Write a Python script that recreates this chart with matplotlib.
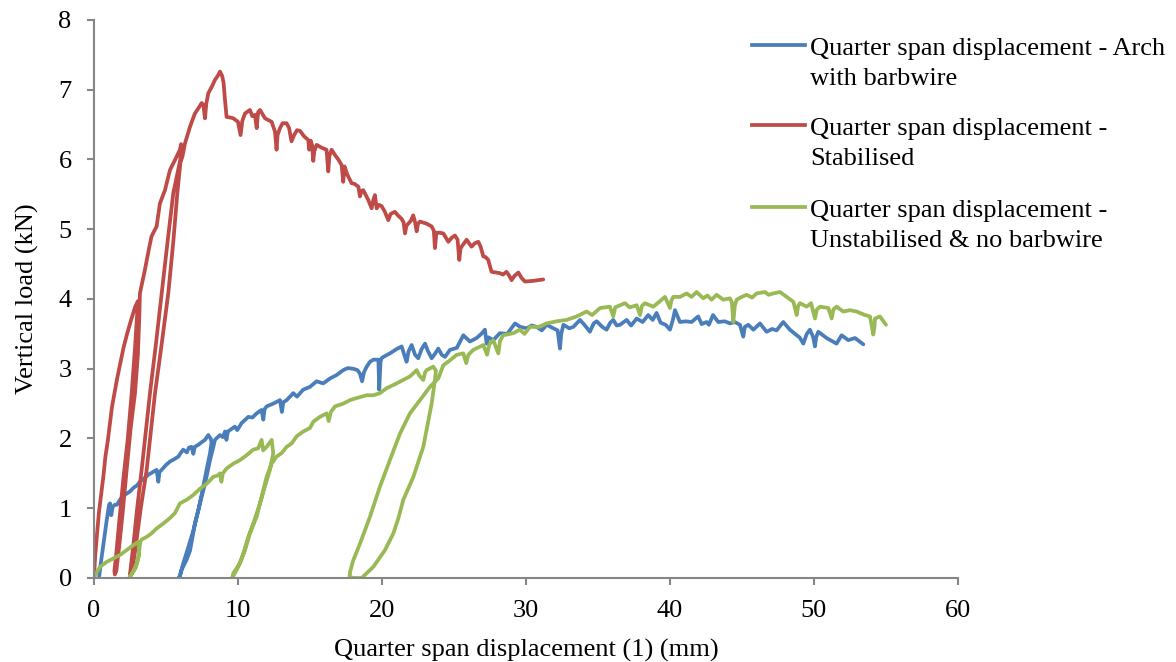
import matplotlib
matplotlib.use('Agg')
import matplotlib.pyplot as plt
from matplotlib.lines import Line2D

# Arch with barbwire (blue)
t_ArchX = [0.35, 0.5, 0.7, 0.9, 1.05, 1.12, 1.2, 1.3, 1.45, 1.6, 1.8, 2.05, 2.27, 2.5, 2.73, 3.0, 3.19, 3.5, 3.77, 4.1,
           4.35, 4.47, 4.55, 4.7, 5.0, 5.28, 5.55, 5.86, 6.05, 6.2, 6.45, 6.6, 6.78, 6.9, 7.0, 7.25, 7.5, 7.71, 7.94, 8.1,
           8.17, 8.06, 7.82, 7.59, 7.25, 6.9, 6.55, 6.2, 5.95, 5.9, 6.0, 6.09, 6.43, 6.67, 6.85, 7.01, 7.36, 7.71, 8.06,
           8.29, 8.4, 8.75, 8.95, 9.1, 9.2, 9.3, 9.44, 9.79, 9.95, 10.25, 10.72, 11.0, 11.3, 11.64, 11.76, 11.85, 11.99,
           12.45, 12.92, 13.05, 13.15, 13.38, 13.84, 14.1, 14.53, 15.0, 15.46, 15.92, 16.39, 16.85, 17.31, 17.63, 18.0,
           18.3, 18.47, 18.62, 18.75, 18.94, 19.17, 19.4, 19.75, 19.81, 19.9, 19.97, 20.1, 20.55, 21.0, 21.37, 21.55,
           21.71, 21.85, 22.06, 22.3, 22.52, 22.75, 22.99, 23.2, 23.45, 23.7, 23.91, 24.15, 24.38, 24.72, 25.2, 25.65,
           26.11, 26.57, 26.9, 27.15, 27.27, 27.4, 27.73, 28.19, 28.7, 29.24, 29.6, 30.05, 30.4, 30.74, 31.1, 31.44,
           31.9, 32.2, 32.36, 32.45, 32.6, 33.0, 33.29, 33.75, 34.1, 34.44, 34.7, 34.91, 35.3, 35.6, 35.85, 36.06, 36.3,
           36.53, 36.99, 37.3, 37.69, 38.1, 38.49, 38.8, 39.07, 39.35, 39.7, 40.0, 40.2, 40.35, 40.69, 41.1, 41.5,
           41.96, 42.2, 42.55, 42.7, 42.99, 43.35, 43.8, 44.17, 44.5, 44.86, 45.09, 45.2, 45.44, 45.79, 46.25, 46.71,
           47.1, 47.4, 47.87, 48.33, 48.8, 49.0, 49.26, 49.5, 49.72, 49.95, 50.07, 50.15, 50.3, 50.88, 51.57, 51.92,
           52.38, 52.85, 53.43]
t_ArchY = [0.0, 0.25, 0.55, 0.85, 1.05, 1.07, 0.9, 1.02, 1.05, 1.05, 1.12, 1.18, 1.21, 1.24, 1.29, 1.33, 1.38, 1.43,
           1.48, 1.52, 1.55, 1.38, 1.52, 1.55, 1.62, 1.67, 1.7, 1.74, 1.8, 1.84, 1.8, 1.87, 1.88, 1.78, 1.88, 1.91, 1.95,
           1.98, 2.05, 2.0, 1.95, 1.79, 1.55, 1.31, 0.97, 0.68, 0.44, 0.21, 0.02, 0.0, 0.05, 0.12, 0.26, 0.39, 0.6, 0.78,
           1.07, 1.35, 1.69, 1.88, 1.98, 2.05, 2.02, 2.1, 1.98, 2.1, 2.12, 2.17, 2.12, 2.22, 2.31, 2.3, 2.36, 2.41, 2.27,
           2.42, 2.46, 2.5, 2.55, 2.38, 2.52, 2.55, 2.65, 2.6, 2.7, 2.74, 2.82, 2.79, 2.86, 2.91, 2.98, 3.01, 3.0, 2.98,
           2.93, 2.82, 2.95, 3.03, 3.1, 3.13, 3.13, 2.7, 3.1, 3.15, 3.17, 3.22, 3.28, 3.32, 3.2, 3.1, 3.25, 3.34, 3.2,
           3.15, 3.28, 3.36, 3.25, 3.15, 3.22, 3.29, 3.2, 3.17, 3.27, 3.3, 3.48, 3.39, 3.44, 3.5, 3.56, 3.36, 3.45, 3.41,
           3.51, 3.5, 3.65, 3.6, 3.58, 3.62, 3.6, 3.55, 3.63, 3.58, 3.55, 3.29, 3.5, 3.63, 3.58, 3.6, 3.7, 3.62, 3.53,
           3.65, 3.68, 3.6, 3.56, 3.66, 3.7, 3.62, 3.63, 3.7, 3.62, 3.72, 3.67, 3.77, 3.7, 3.8, 3.66, 3.63, 3.56, 3.7,
           3.84, 3.67, 3.68, 3.67, 3.75, 3.64, 3.67, 3.63, 3.77, 3.67, 3.68, 3.65, 3.67, 3.63, 3.46, 3.6, 3.63, 3.56,
           3.65, 3.53, 3.57, 3.55, 3.67, 3.56, 3.48, 3.45, 3.36, 3.5, 3.56, 3.45, 3.32, 3.45, 3.53, 3.44, 3.36, 3.48,
           3.41, 3.44, 3.35]

# Stabilised (red)
t_StabX = [0.0, 0.08, 0.2, 0.35, 0.5, 0.65, 0.8, 0.95, 1.1, 1.25, 1.4, 1.6, 1.8, 2.05, 2.3, 2.55, 2.85, 3.05,
           3.02, 2.85, 2.62, 2.35, 2.03, 1.75, 1.55, 1.42, 1.45,
           1.55, 1.75, 2.0, 2.27, 2.55, 2.85, 3.05, 3.15, 3.19,
           3.54, 3.8, 4.0, 4.35, 4.58, 4.93, 5.1, 5.28, 5.62, 5.97, 6.05,
           6.0, 5.51, 5.1, 4.7, 4.3, 3.89, 3.6, 3.31, 3.0, 2.75, 2.55, 2.5,
           2.65, 2.9, 3.25, 3.66, 3.95, 4.24, 4.7, 5.16, 5.5, 5.79, 6.0, 6.15, 6.32,
           6.67, 7.01, 7.3, 7.48, 7.6, 7.71, 7.8, 7.94, 8.2, 8.4, 8.6, 8.75, 8.9, 9.0, 9.1, 9.21, 9.5, 9.68, 10.0,
           10.18, 10.3, 10.49, 10.83, 11.0, 11.18, 11.3, 11.4, 11.53, 11.88, 12.34, 12.57, 12.68, 12.75, 12.92, 13.1,
           13.38, 13.55, 13.72, 13.9, 14.1, 14.31, 14.6, 14.88, 14.95, 15.05, 15.15, 15.23, 15.3, 15.46, 15.8, 16.15,
           16.27, 16.35, 16.5, 16.75, 16.97, 17.2, 17.31, 17.4, 17.6, 17.89, 18.1, 18.36, 18.47, 18.58, 18.7, 19.05,
           19.28, 19.4, 19.51, 19.63, 19.8, 19.98, 20.2, 20.44, 20.6, 20.9, 21.1, 21.36, 21.5, 21.6, 21.7, 21.83, 22.0,
           22.17, 22.3, 22.41, 22.5, 22.64, 23.1, 23.45, 23.6, 23.68, 23.78, 24.0, 24.26, 24.61, 24.85, 25.07, 25.25,
           25.37, 25.45, 25.53, 25.88, 26.05, 26.22, 26.45, 26.69, 26.85, 27.04, 27.2, 27.38, 27.61, 27.9, 28.19, 28.4,
           28.65, 28.85, 29.0, 29.2, 29.47, 29.7, 29.93, 30.5, 31.2]
t_StabY = [0.0, 0.3, 0.6, 0.95, 1.2, 1.45, 1.75, 1.95, 2.2, 2.45, 2.62, 2.85, 3.05, 3.3, 3.5, 3.68, 3.88, 3.97,
           3.85, 3.3, 2.65, 2.0, 1.4, 0.8, 0.35, 0.1, 0.05,
           0.1, 0.45, 0.95, 1.55, 2.15, 2.65, 3.2, 3.75, 4.08,
           4.42, 4.7, 4.9, 5.04, 5.37, 5.56, 5.7, 5.85, 5.99, 6.14, 6.22,
           6.0, 5.52, 4.8, 4.08, 3.35, 2.65, 2.1, 1.55, 1.0, 0.5, 0.15, 0.05,
           0.1, 0.45, 1.0, 1.55, 2.1, 2.65, 3.35, 4.08, 4.8, 5.52, 5.95, 6.05, 6.23,
           6.47, 6.66, 6.75, 6.81, 6.78, 6.59, 6.8, 6.95, 7.05, 7.14, 7.2, 7.26, 7.2, 7.1, 6.85, 6.61, 6.6, 6.59, 6.54,
           6.35, 6.55, 6.66, 6.71, 6.62, 6.64, 6.45, 6.68, 6.71, 6.59, 6.54, 6.4, 6.14, 6.35, 6.45, 6.52,
           6.52, 6.45, 6.26, 6.35, 6.42, 6.41, 6.33, 6.28, 6.14, 6.27, 6.2, 5.98, 6.12, 6.21, 6.17, 6.14,
           5.83, 6.05, 6.14, 6.06, 6.0, 5.92, 5.68, 5.9, 5.78, 5.66, 5.65, 5.61, 5.47, 5.55, 5.56, 5.42,
           5.3, 5.42, 5.49, 5.3, 5.35, 5.33, 5.25, 5.13, 5.22, 5.25, 5.2, 5.15, 5.1, 4.94, 5.05, 5.08, 5.12,
           5.2, 5.1, 4.97, 5.08, 5.11, 5.08, 5.04, 4.98, 4.73, 4.95, 4.95, 4.94, 4.82, 4.88, 4.91, 4.85,
           4.56, 4.72, 4.75, 4.85, 4.8, 4.75, 4.8, 4.82, 4.75, 4.61, 4.6, 4.56, 4.39, 4.38, 4.37, 4.35,
           4.39, 4.33, 4.27, 4.33, 4.38, 4.3, 4.25, 4.26, 4.28]

# Unstabilised & no barbwire (green)
t_UnstabX = [0.0, 0.1, 0.42, 0.88, 1.34, 1.81, 2.27, 2.73, 3.1, 3.12, 3.0, 2.75, 2.45, 2.6, 2.9, 3.1, 3.2, 3.3,
             3.66, 4.0, 4.35, 4.81, 5.28, 5.62, 5.97, 6.43, 6.9, 7.36, 7.82, 8.29, 8.6, 8.75, 8.85, 8.95, 9.21, 9.68,
             10.14, 10.6, 11.06, 11.41, 11.64, 11.75, 11.99, 12.34,
             12.45, 12.22, 11.87, 11.53, 11.06, 10.72, 10.37, 10.02, 9.6,
             9.68, 10.14, 10.49, 10.83, 11.3, 11.64, 11.99, 12.34, 12.68, 13.03, 13.38, 13.73, 14.07, 14.53, 15.0,
             15.23, 15.69, 16.16, 16.3, 16.45, 16.74, 17.31, 17.78, 18.24, 18.94, 19.4, 19.86, 20.32, 21.02, 21.48,
             21.94, 22.41, 22.6, 22.87, 23.0, 23.1, 23.56, 23.75,
             23.65, 23.45, 22.87, 22.18, 21.48, 21.13, 20.79, 20.21, 19.4, 18.59, 18.0, 17.75,
             17.8, 18.0, 18.47, 19.17, 19.86, 20.55, 21.25, 21.94, 22.64, 23.33, 23.91,
             24.26, 24.72, 25.19, 25.65, 25.85, 26.0, 26.34, 27.04, 27.3, 27.45, 27.73, 28.08, 28.2, 28.42, 29.12,
             29.58, 29.9, 30.28, 30.9, 31.44, 32.13, 32.82, 33.52, 34.21, 34.6, 35.14, 35.83, 36.06, 36.2, 36.53,
             36.88, 37.2, 37.69, 37.92, 38.05, 38.26, 38.84, 39.2, 39.65, 40.0, 40.1, 40.23, 40.7, 41.16, 41.5, 41.85,
             42.32, 42.6, 42.89, 43.24, 43.7, 44.17, 44.3, 44.4, 44.5, 44.63, 44.98, 45.32, 45.7, 46.02, 46.6, 46.85,
             47.18, 47.64, 48.1, 48.57, 48.8, 48.9, 49.03, 49.49, 49.8, 50.07, 50.2, 50.42, 51.0, 51.23, 51.35, 51.57,
             52.03, 52.5, 52.96, 53.54, 53.89, 54.12, 54.2, 54.24, 54.58, 55.0]
t_UnstabY = [0.0, 0.05, 0.16, 0.23, 0.28, 0.33, 0.4, 0.47, 0.52, 0.35, 0.22, 0.1, 0.0, 0.05, 0.15, 0.3, 0.5, 0.55,
             0.59, 0.64, 0.71, 0.78, 0.86, 0.93, 1.07, 1.12, 1.19, 1.28, 1.35, 1.45, 1.47, 1.5, 1.38, 1.5, 1.57, 1.64,
             1.69, 1.76, 1.84, 1.86, 1.98, 1.83, 1.88, 1.98,
             1.79, 1.55, 1.31, 1.07, 0.78, 0.59, 0.35, 0.16, 0.0,
             0.07, 0.21, 0.4, 0.64, 0.88, 1.16, 1.45, 1.64, 1.74, 1.79, 1.88, 1.93, 2.03, 2.1, 2.15,
             2.24, 2.31, 2.36, 2.25, 2.38, 2.46, 2.5, 2.55, 2.58, 2.62, 2.62, 2.65, 2.72, 2.79, 2.84,
             2.89, 2.98, 2.9, 2.84, 2.95, 2.98, 3.03, 2.97,
             2.8, 2.5, 1.88, 1.45, 1.12, 0.85, 0.64, 0.4, 0.16, 0.0, 0.0, 0.02,
             0.1, 0.25, 0.49, 0.88, 1.31, 1.69, 2.07, 2.36, 2.55, 2.74, 2.86,
             3.05, 3.12, 3.2, 3.22, 3.08, 3.2, 3.27, 3.34, 3.2, 3.35, 3.41, 3.22, 3.4, 3.48, 3.51,
             3.56, 3.5, 3.6, 3.6, 3.65, 3.68, 3.7, 3.75, 3.82, 3.77, 3.87, 3.89, 3.75, 3.88, 3.91,
             3.94, 3.88, 3.91, 3.77, 3.9, 3.94, 3.89, 3.95, 4.03, 3.87, 3.98, 4.03, 4.03, 4.08, 4.03, 4.1,
             4.01, 4.05, 3.99, 4.06, 3.99, 4.01, 3.95, 3.67, 3.9, 3.99, 4.03, 4.06, 4.02, 4.08, 4.1, 4.06,
             4.08, 4.1, 4.03, 3.96, 3.77, 3.9, 3.94, 3.89, 3.94, 3.72, 3.85, 3.89, 3.87, 3.72, 3.85, 3.89,
             3.82, 3.84, 3.82, 3.77, 3.75, 3.49, 3.6, 3.72, 3.75, 3.63]

t_Labels = [['Quarter span displacement - Arch', 'with barbwire'],
            ['Quarter span displacement -', 'Stabilised'],
            ['Quarter span displacement -', 'Unstabilised & no barbwire']]
t_Colors = ['#4A7EBB', '#BE4B48', '#98B954']

plt.rcParams['font.family'] = ['Liberation Serif', 'DejaVu Serif']
plt.rcParams['font.size'] = 19

t_W, t_H = 1176, 662
fig = plt.figure(figsize=(t_W / 100, t_H / 100), dpi=100)
ax = fig.add_axes([0.0799, 0.1269, 0.7347, 0.8429])

t_Series = [(t_ArchX, t_ArchY), (t_StabX, t_StabY), (t_UnstabX, t_UnstabY)]
for (t_X, t_Y), t_Color in zip(t_Series, t_Colors):
    ax.plot(t_X, t_Y, color=t_Color, lw=2.7, solid_joinstyle='round', solid_capstyle='round')

ax.set_xlim(0, 60)
ax.set_ylim(0, 8)
ax.set_xticks(range(0, 61, 10))
ax.set_yticks(range(0, 9))

# grey left/bottom spines only
for t_Side in ['top', 'right']:
    ax.spines[t_Side].set_visible(False)
for t_Side in ['left', 'bottom']:
    ax.spines[t_Side].set_color('#868686')
    ax.spines[t_Side].set_linewidth(1.5)
ax.tick_params(direction='out', length=5, width=1.5, color='#868686', pad=11)

ax.set_xlabel('Quarter span displacement (1) (mm)', labelpad=12)
ax.set_ylabel('Vertical load (kN)', labelpad=14)

# legend: handle sits on the first line of each two-line entry (pixel positions from top)
t_HandleRow = [45, 125, 207]
t_TextRows = [[55, 85], [135, 165], [217, 247]]
for t_Lines, t_Color, t_Hy, t_Rows in zip(t_Labels, t_Colors, t_HandleRow, t_TextRows):
    fig.add_artist(Line2D([752 / t_W, 805 / t_W], [1 - t_Hy / t_H, 1 - t_Hy / t_H],
                          color=t_Color, lw=2.7, transform=fig.transFigure))
    for t_Text, t_Py in zip(t_Lines, t_Rows):
        fig.text(810 / t_W, 1 - t_Py / t_H, t_Text, va='baseline', ha='left')

fig.savefig('out.png', dpi=100)
